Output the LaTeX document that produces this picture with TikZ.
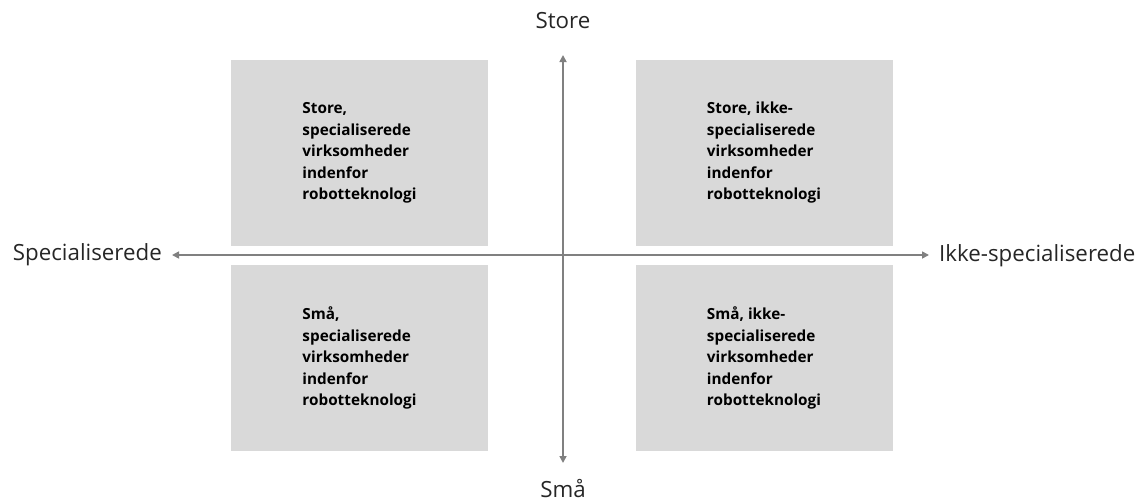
\documentclass[tikz,border=0pt]{standalone}
\usepackage{fontspec}
\setmainfont{Open Sans}
\usetikzlibrary{arrows.meta}
\definecolor{boxgray}{HTML}{D9D9D9}
\definecolor{axisgray}{HTML}{808080}
\definecolor{txt}{HTML}{262626}
\tikzset{
  quad/.style={fill=boxgray, draw=none, minimum width=257pt, minimum height=186pt, inner sep=0pt},
  quadtext/.style={align=left, font=\bfseries\fontsize{15.3}{21.5}\selectfont, text=black},
  axislabel/.style={font=\fontsize{22.3}{24}\selectfont, text=txt, inner sep=0pt},
  axis/.style={draw=axisgray, line width=1.6pt, {Triangle[length=7pt,width=7pt]}-{Triangle[length=7pt,width=7pt]}}
}
\begin{document}
\begin{tikzpicture}[x=1pt,y=-1pt]
\useasboundingbox (0,0) rectangle (1142,501);
\node[quad] (tl) at (359.5,153) {};
\node[quad] (tr) at (764,153) {};
\node[quad] (bl) at (359.5,358) {};
\node[quad] (br) at (764,358) {};
\node[quadtext] at (tl.center) {Store,\\specialiserede\\virksomheder\\indenfor\\robotteknologi};
\node[quadtext] at (tr.center) {Store, ikke-\\specialiserede\\virksomheder\\indenfor\\robotteknologi};
\node[quadtext] at (bl.center) {Små,\\specialiserede\\virksomheder\\indenfor\\robotteknologi};
\node[quadtext] at (br.center) {Små, ikke-\\specialiserede\\virksomheder\\indenfor\\robotteknologi};
\coordinate (top) at (563,55);
\coordinate (bot) at (563,463);
\coordinate (lft) at (172,255);
\coordinate (rgt) at (929,255);
\draw[axis] (lft) -- (rgt);
\draw[axis] (top) -- (bot);
\node[axislabel, anchor=east] (ls) at (162,255) {Specialiserede};
\node[axislabel, anchor=west] (rs) at (939,256) {Ikke-specialiserede};
\node[axislabel, anchor=base] (ts) at (563,28) {Store};
\node[axislabel, anchor=base] (bs) at (563,497) {Små};
\end{tikzpicture}
\end{document}
